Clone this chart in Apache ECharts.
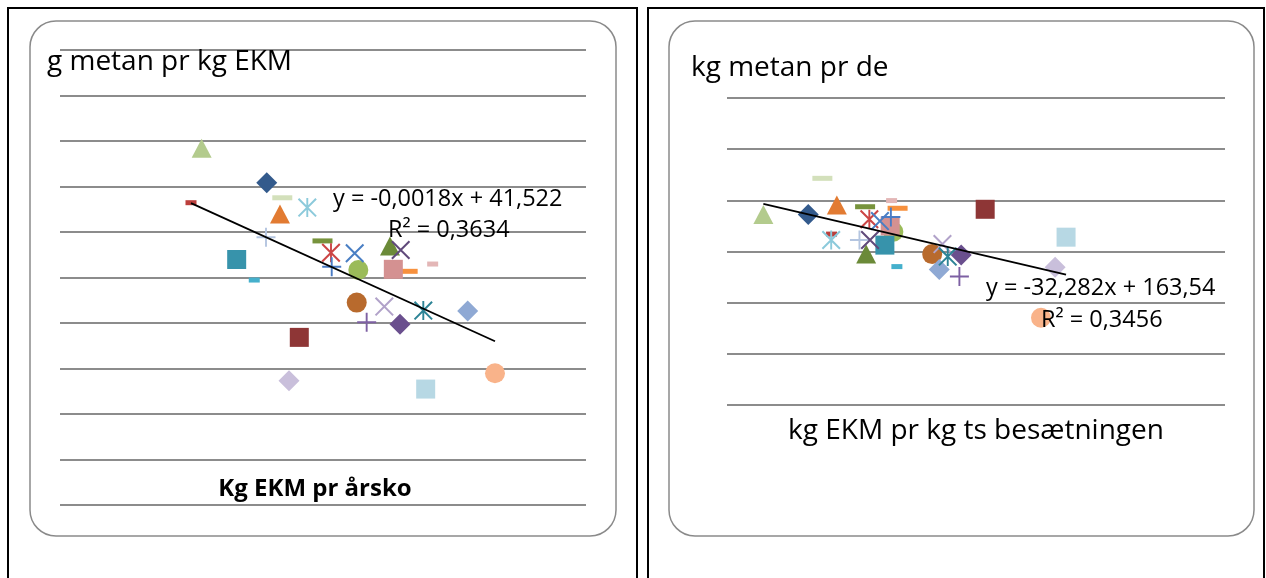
<!DOCTYPE html>
<html>
<head>
<meta charset="utf-8">
<script src="https://cdn.jsdelivr.net/npm/echarts@6/dist/echarts.min.js"></script>
<style>
  html, body { margin: 0; padding: 0; background: #fff; }
  #methane-chart { width: 1266px; height: 578px; }
</style>
</head>
<body>
<div id="methane-chart"></div>
<script>
// one point per farm, same order in both panels
// left panel: x = kg EKM pr årsko, y = g metan pr kg EKM
const ekmPerCow = [5666, 6569, 6785, 6753, 7132, 5518, 6559, 6152, 6396, 7343, 7461, 7790, 7471, 7840, 8280,
  8428, 8326, 8525, 8872, 7818, 8201, 8742, 7956, 8419, 9358, 7021, 6878, 8775, 9737];
const methanePerEkm = [34.6, 32.71, 31.88, 30.99, 31.34, 31.61, 29.71, 28.49, 27.36, 29.51, 28.86, 28.83, 28.09, 27.91, 29.23,
  29.01, 27.95, 27.84, 28.24, 26.12, 25.9, 25.68, 25.04, 24.93, 25.66, 24.21, 21.83, 21.37, 22.24];
// right panel: x = kg EKM pr kg ts, y = kg metan pr de
const ekmPerTs = [0.773, 0.900, 0.940, 0.981, 0.965, 0.966, 1.045, 1.117, 1.151, 1.061, 1.073, 1.103, 1.134, 1.141, 1.064,
  1.075, 1.132, 1.153, 1.136, 1.251, 1.280, 1.295, 1.328, 1.333, 1.271, 1.401, 1.599, 1.630, 1.559];
const methanePerDe = [134.5, 134.5, 148.6, 138.2, 124.5, 126.8, 124.5, 122.5, 114.1, 137.5, 132.6, 131.9, 133.5, 127.7, 119.0,
  124.5, 130.0, 136.9, 139.9, 119.0, 122.9, 118.0, 110.2, 118.6, 113.0, 136.5, 113.8, 125.6, 94.1];

// trendlines [slope, intercept]
const trendLeft = [-0.0018, 41.522];
const trendRight = [-32.282, 163.54];
const eqLeft = ["y = -0,0018x + 41,522", "R² = 0,3634"];
const eqRight = ["y = -32,282x + 163,54", "R² = 0,3456"];

// axis ranges (no tick labels shown)
const leftX = [3700, 11000];
const leftY = [15, 40, 2.5];
const rightX = [0.67, 2.08];
const rightY = [60, 180, 20];

// excel style markers
const pathX = "path://M0,1.5L1.5,0L20,18.5L18.5,20Z M18.5,0L20,1.5L1.5,20L0,18.5Z";
const pathStar = pathX + " M9,0L11,0L11,20L9,20Z";
const pathPlus = "path://M9,0H11V9H20V11H11V20H9V11H0V9H9Z";
const markers = {
  tri: { symbol: "triangle", size: [20, 19] },
  dia: { symbol: "diamond", size: [21, 21] },
  sq: { symbol: "rect", size: [19, 19] },
  circ: { symbol: "circle", size: 20 },
  x: { symbol: pathX, size: 19 },
  star: { symbol: pathStar, size: 19 },
  plus: { symbol: pathPlus, size: 19 },
  dash: { symbol: "rect", size: [20, 5] },
  dashS: { symbol: "rect", size: [11, 5] },
};
const farmStyle = [
  ["tri", "#b3cb8d"], ["dia", "#335a8c"], ["dash", "#d3e0bb"], ["tri", "#e27b32"], ["star", "#8ccadb"],
  ["dashS", "#bc3f3c"], ["plus", "#b4c5e0"], ["sq", "#3793ab"], ["dashS", "#45b0cc"], ["dash", "#77933c"],
  ["star", "#cc4545"], ["x", "#4a7fc4"], ["plus", "#4a7bc4"], ["circ", "#9bbb59"], ["tri", "#6b8a38"],
  ["x", "#604a7b"], ["sq", "#d49191"], ["dash", "#f7913e"], ["dashS", "#e3b6b6"], ["circ", "#b86a2d"],
  ["x", "#b1a2c9"], ["star", "#2d8496"], ["plus", "#7d60a3"], ["dia", "#6a4f8e"], ["dia", "#8fa9d4"],
  ["sq", "#8e3636"], ["dia", "#c9bfdb"], ["sq", "#b7d8e4"], ["circ", "#f9b38a"],
];
// draw order: dashes first, line markers last
const layerOf = { dash: 0, dashS: 0, circ: 1, sq: 2, dia: 3, tri: 4, x: 5, star: 5, plus: 5 };

function buildPoints(xs, ys) {
  let items = xs.map((x, i) => {
    let m = markers[farmStyle[i][0]];
    return {
      value: [x, ys[i]],
      layer: layerOf[farmStyle[i][0]],
      symbol: m.symbol,
      symbolSize: m.size,
      itemStyle: { color: farmStyle[i][1], opacity: 1 },
    };
  });
  items.sort((a, b) => a.layer - b.layer);
  return items;
}

function trendPoints(xs, coef) {
  let lo = Math.min(...xs);
  let hi = Math.max(...xs);
  return [[lo, coef[0] * lo + coef[1]], [hi, coef[0] * hi + coef[1]]];
}

function valueAxis(range, idx) {
  return {
    type: "value",
    gridIndex: idx,
    min: range[0],
    max: range[1],
    interval: range[2],
    axisLine: { show: false },
    axisTick: { show: false },
    axisLabel: { show: false },
    splitLine: { show: true, lineStyle: { color: "#8c8c8c", width: 2 } },
  };
}

const fontName = "'Open Sans', sans-serif";
function label(text, x, y, size, align, bold) {
  return {
    type: "text",
    z: 100,
    style: {
      text: text,
      x: x,
      y: y,
      fill: "#000",
      font: (bold ? "bold " : "") + size + "px " + fontName,
      textAlign: align,
      textVerticalAlign: "middle",
    },
  };
}

let chartDom = echarts.init(document.getElementById("methane-chart"));
chartDom.setOption({
  animation: false,
  grid: [
    { left: 60, top: 50, width: 526, height: 455 },
    { left: 727, top: 98, width: 498, height: 307 },
  ],
  xAxis: [
    { type: "value", gridIndex: 0, min: leftX[0], max: leftX[1], show: false },
    { type: "value", gridIndex: 1, min: rightX[0], max: rightX[1], show: false },
  ],
  yAxis: [valueAxis(leftY, 0), valueAxis(rightY, 1)],
  graphic: [
    // outer frames
    { type: "rect", z: 0, shape: { x: 8, y: 8, width: 629, height: 600 }, style: { fill: "none", stroke: "#000", lineWidth: 2 } },
    { type: "rect", z: 0, shape: { x: 648, y: 8, width: 616, height: 600 }, style: { fill: "none", stroke: "#000", lineWidth: 2 } },
    // rounded chart areas
    { type: "rect", z: 0, shape: { x: 30, y: 21, width: 586, height: 515, r: 26 }, style: { fill: "none", stroke: "#8a8a8a", lineWidth: 1.5 } },
    { type: "rect", z: 0, shape: { x: 669, y: 21, width: 585, height: 515, r: 26 }, style: { fill: "none", stroke: "#8a8a8a", lineWidth: 1.5 } },
    label("g metan pr kg EKM", 47, 62, 28, "left"),
    label("kg metan pr de", 691, 68, 28, "left"),
    label(eqLeft[0], 333, 199, 23.5, "left"),
    label(eqLeft[1], 388, 230, 23.5, "left"),
    label(eqRight[0], 986, 288, 23.5, "left"),
    label(eqRight[1], 1041, 320, 23.5, "left"),
    label("Kg EKM pr årsko", 315, 489, 24, "center", true),
    label("kg EKM pr kg ts besætningen", 976, 431, 28, "center"),
  ],
  series: [
    {
      type: "scatter",
      xAxisIndex: 0,
      yAxisIndex: 0,
      data: buildPoints(ekmPerCow, methanePerEkm),
    },
    {
      type: "scatter",
      xAxisIndex: 1,
      yAxisIndex: 1,
      data: buildPoints(ekmPerTs, methanePerDe),
    },
    {
      type: "line",
      xAxisIndex: 0,
      yAxisIndex: 0,
      z: 5,
      symbol: "none",
      lineStyle: { color: "#000", width: 1.8 },
      data: trendPoints(ekmPerCow, trendLeft),
    },
    {
      type: "line",
      xAxisIndex: 1,
      yAxisIndex: 1,
      z: 5,
      symbol: "none",
      lineStyle: { color: "#000", width: 1.8 },
      data: trendPoints(ekmPerTs, trendRight),
    },
  ],
});
</script>
</body>
</html>
